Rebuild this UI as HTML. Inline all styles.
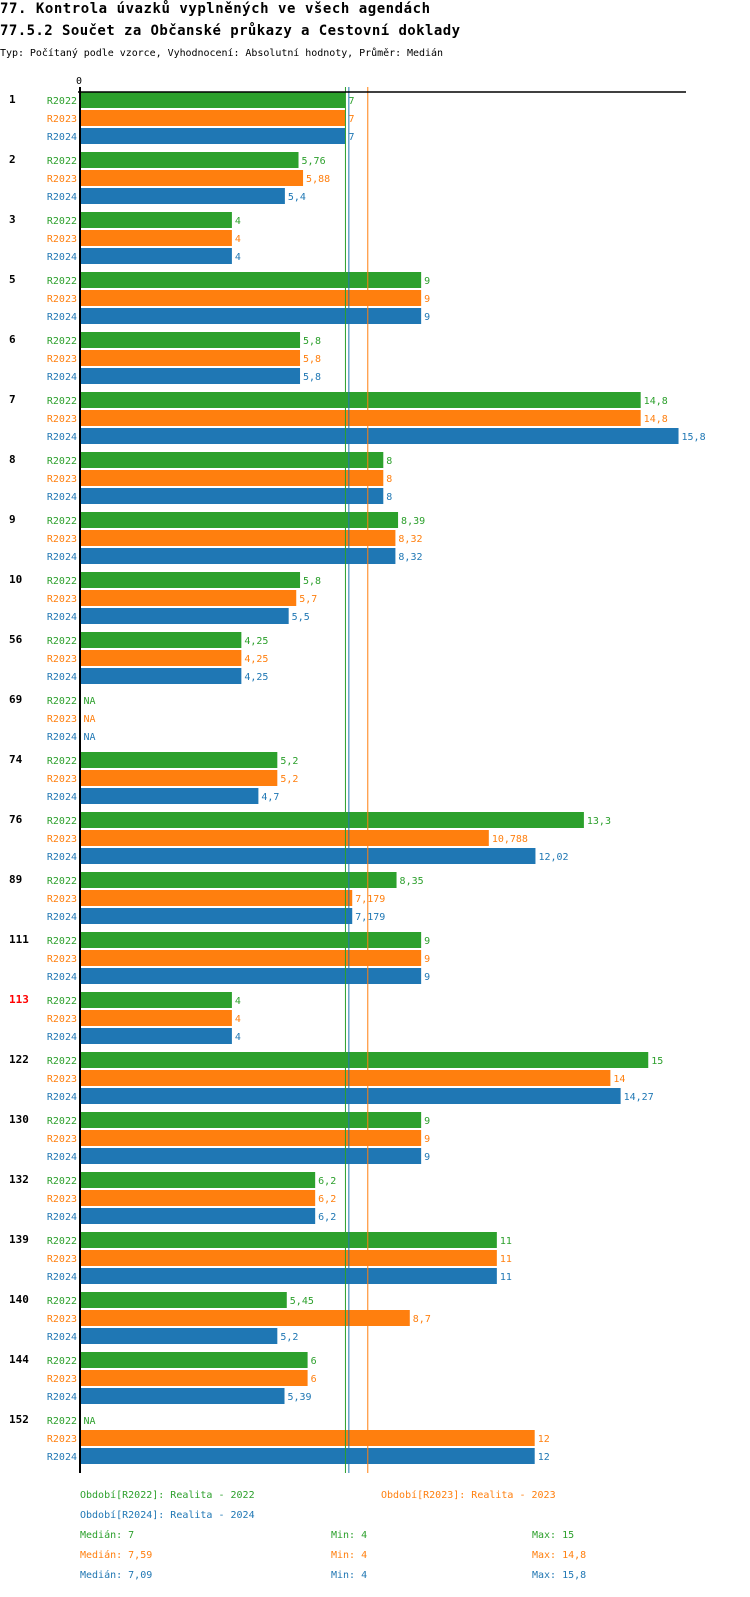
<!DOCTYPE html>
<html><head><meta charset="utf-8">
<style>
body{margin:0;background:#fff;width:750px;height:1592px;overflow:hidden}
svg text{font-family:"DejaVu Sans Mono","Liberation Mono",monospace}
</style></head><body>
<svg id="chart" width="750" height="1592" viewBox="0 0 750 1592" xmlns="http://www.w3.org/2000/svg">
<text x="0" y="13" font-size="14" font-weight="bold" fill="#000" textLength="430">77. Kontrola úvazků vyplněných ve všech agendách</text>
<text x="0" y="35" font-size="14" font-weight="bold" fill="#000" textLength="460">77.5.2 Součet za Občanské průkazy a Cestovní doklady</text>
<text x="0" y="56" font-size="10" fill="#000" textLength="443">Typ: Počítaný podle vzorce, Vyhodnocení: Absolutní hodnoty, Průměr: Medián</text>
<text x="79" y="84" font-size="10" text-anchor="middle" fill="#000">0</text>
<g id="bars"></g>
<g id="legend" font-size="10">
<text x="80" y="1498" fill="#2ca02c">Období[R2022]: Realita - 2022</text>
<text x="381" y="1498" fill="#ff7f0e">Období[R2023]: Realita - 2023</text>
<text x="80" y="1518" fill="#1f77b4">Období[R2024]: Realita - 2024</text>
<text x="80" y="1538" fill="#2ca02c">Medián: 7</text>
<text x="331" y="1538" fill="#2ca02c">Min: 4</text>
<text x="532" y="1538" fill="#2ca02c">Max: 15</text>
<text x="80" y="1558" fill="#ff7f0e">Medián: 7,59</text>
<text x="331" y="1558" fill="#ff7f0e">Min: 4</text>
<text x="532" y="1558" fill="#ff7f0e">Max: 14,8</text>
<text x="80" y="1578" fill="#1f77b4">Medián: 7,09</text>
<text x="331" y="1578" fill="#1f77b4">Min: 4</text>
<text x="532" y="1578" fill="#1f77b4">Max: 15,8</text>
</g>
</svg>
<script>
const categories=["1","2","3","5","6","7","8","9","10","56","69","74","76","89","111","113","122","130","132","139","140","144","152"];
const seriesNames=["R2022","R2023","R2024"];
const r2022=[7,5.76,4,9,5.8,14.8,8,8.39,5.8,4.25,null,5.2,13.3,8.35,9,4,15,9,6.2,11,5.45,6,null];
const r2023=[7,5.88,4,9,5.8,14.8,8,8.32,5.7,4.25,null,5.2,10.788,7.179,9,4,14,9,6.2,11,8.7,6,12];
const r2024=[7,5.4,4,9,5.8,15.8,8,8.32,5.5,4.25,null,4.7,12.02,7.179,9,4,14.27,9,6.2,11,5.2,5.39,12];
const medians=[7,7.59,7.09];
const highlighted=["113"];
const colors=["#2ca02c","#ff7f0e","#1f77b4"];
const NS="http://www.w3.org/2000/svg";
const X0=80.5,SCALE=37.85;
function xs(v){return X0+v*SCALE;}
function groupTop(i){return 92+i*60;}
const g=document.getElementById('bars');
function mk(t,a){const e=document.createElementNS(NS,t);for(const k in a)e.setAttribute(k,a[k]);g.appendChild(e);return e;}
const series=[r2022,r2023,r2024];
categories.forEach((c,i)=>{
  const gt=mk('text',{x:9,y:groupTop(i)+11,'font-size':11,'font-weight':'bold',fill:highlighted.includes(c)?'#ff0000':'#000'});
  gt.textContent=c;
  
  
  series.forEach((s,j)=>{
    const y=groupTop(i)+j*18;
    const lab=mk('text',{x:77,y:y+12,'font-size':10,'text-anchor':'end',fill:colors[j]});
    lab.textContent=seriesNames[j];
    
    
    const v=s[i];
    if(v===null){
      const t=mk('text',{x:X0+3,y:y+12,'font-size':10,fill:colors[j]});t.textContent='NA';
      
      
      return;
    }
    const r=mk('rect',{x:X0,y:y,width:xs(v)-X0,height:16,fill:colors[j]});
    
    
    const t=mk('text',{x:xs(v)+3,y:y+12,'font-size':10,fill:colors[j]});
    t.textContent=String(v).replace('.',',');
    
    
  });
});
medians.forEach((m,j)=>{
  const l=mk('line',{x1:xs(m),x2:xs(m),y1:87,y2:1473,stroke:colors[j],'stroke-width':1});
  
  
});
const ax=mk('line',{x1:78,x2:686,y1:92,y2:92,stroke:'#000','stroke-width':1.5});


const ay=mk('line',{x1:80,x2:80,y1:87,y2:1473,stroke:'#000','stroke-width':2});


</script>
</body></html>
